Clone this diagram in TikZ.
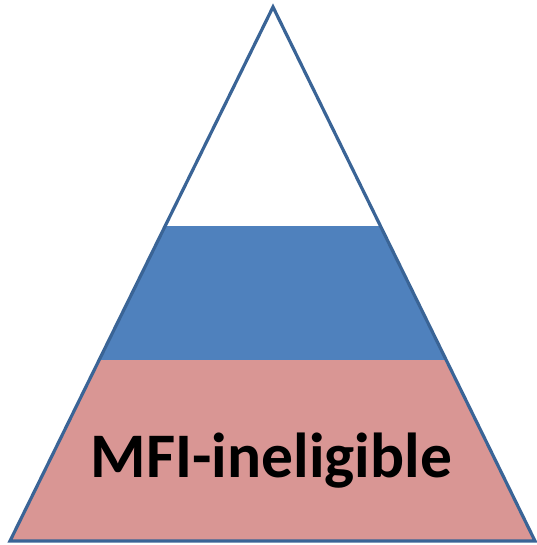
\documentclass[tikz,border=0pt]{standalone}
\usepackage{fontspec}
\setmainfont{Carlito}
\definecolor{bandblue}{HTML}{4F81BD}
\definecolor{bandpink}{HTML}{D99694}
\definecolor{edgeblue}{HTML}{3A6496}
\begin{document}
\begin{tikzpicture}[x=1pt,y=-1pt,
  outline/.style={draw=edgeblue,line width=3.2pt,line join=miter},
  label/.style={font=\bfseries\fontsize{63.5}{76}\selectfont,text=black,inner sep=0pt}]
\useasboundingbox (0,0) rectangle (536,545);
\coordinate (apex) at (273,7);
\coordinate (bl) at (10,541);
\coordinate (br) at (535,541);
\begin{scope}
  \clip (apex) -- (bl) -- (br) -- cycle;
  \fill[white] (0,0) rectangle (536,226);
  \fill[bandblue] (0,226) rectangle (536,360);
  \fill[bandpink] (0,360) rectangle (536,545);
\end{scope}
\draw[outline] (apex) -- (bl) -- (br) -- cycle;
\node[label,anchor=base] (txt) at (271.5,477) {MFI-ineligible};
\end{tikzpicture}
\end{document}
